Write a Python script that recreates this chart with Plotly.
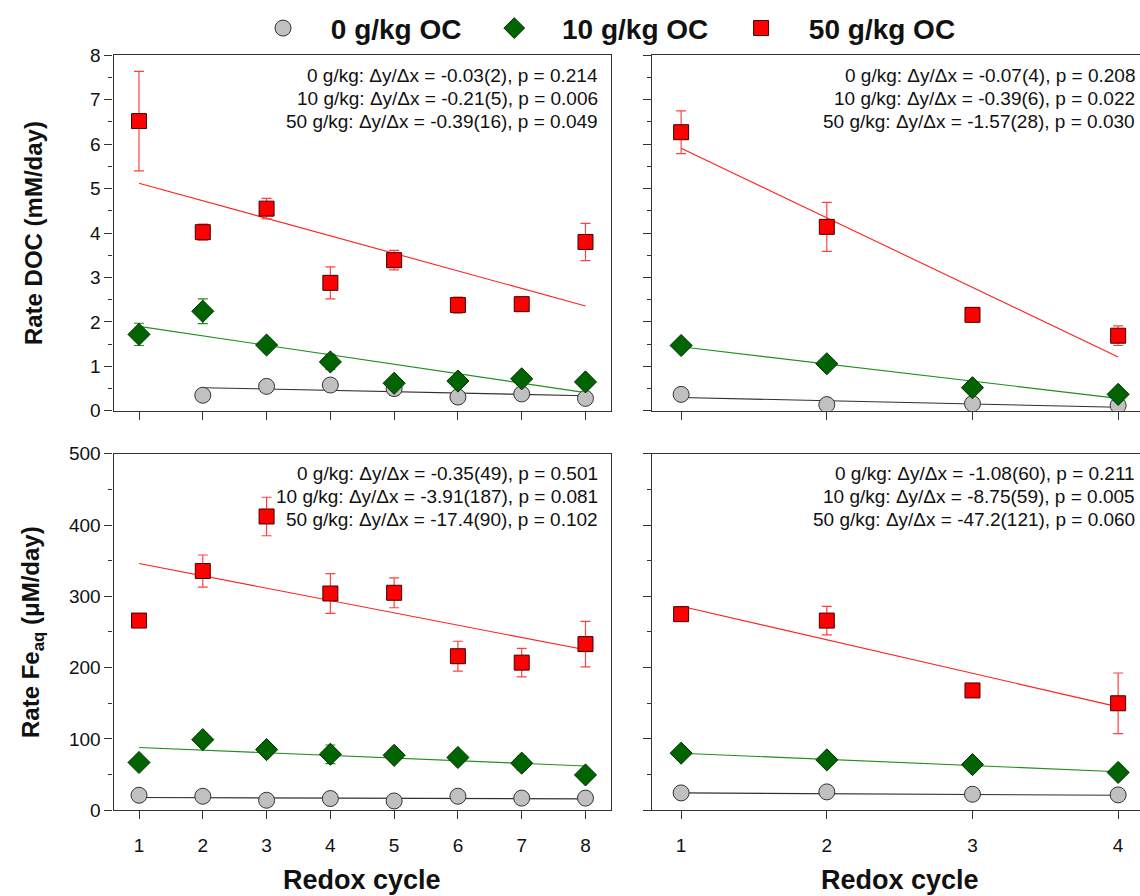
import plotly.graph_objects as go

# ---------------- data ----------------
cycles8 = [1, 2, 3, 4, 5, 6, 7, 8]
cycles4 = [1, 2, 3, 4]
series_names = ["0 g/kg OC", "10 g/kg OC", "50 g/kg OC"]

# DOC rates (mM/day), 8 redox cycles
doc8_0 = [None, 0.35, 0.55, 0.58, 0.50, 0.31, 0.38, 0.28]
doc8_0_err = [None, 0.03, 0.03, 0.03, 0.15, 0.03, 0.03, 0.03]
doc8_10 = [1.72, 2.24, 1.48, 1.10, 0.62, 0.67, 0.72, 0.65]
doc8_10_err = [0.25, 0.28, 0.05, 0.17, 0.06, 0.06, 0.14, 0.11]
doc8_50 = [6.52, 4.02, 4.55, 2.88, 3.39, 2.38, 2.40, 3.80]
doc8_50_err = [1.12, 0.18, 0.23, 0.36, 0.22, 0.18, 0.12, 0.42]

# DOC rates (mM/day), 4 redox cycles
doc4_0 = [0.37, 0.14, 0.16, 0.12]
doc4_0_err = [0.03, 0.03, 0.03, 0.03]
doc4_10 = [1.47, 1.06, 0.52, 0.37]
doc4_10_err = [0.07, 0.05, 0.04, 0.04]
doc4_50 = [6.27, 4.14, 2.16, 1.69]
doc4_50_err = [0.48, 0.55, 0.06, 0.22]

# Fe(aq) rates (uM/day), 8 redox cycles
fe8_0 = [21, 19.6, 14, 16.4, 13, 19.6, 17, 17]
fe8_0_err = [2, 2, 2, 2, 2, 2, 2, 2]
fe8_10 = [67, 99, 85, 78.5, 77, 74, 66, 49.5]
fe8_10_err = [6, 8, 6, 13, 6, 6, 9.5, 6]
fe8_50 = [266, 335.5, 412, 304, 305, 216, 207, 233]
fe8_50_err = [8, 22.5, 27, 28, 21, 21, 20, 32]

# Fe(aq) rates (uM/day), 4 redox cycles
fe4_0 = [24.3, 25.7, 22.4, 21.5]
fe4_0_err = [2, 2, 2, 2]
fe4_10 = [80, 70.6, 64, 53]
fe4_10_err = [4, 3, 3, 3]
fe4_50 = [275, 266, 168, 150]
fe4_50_err = [4, 20, 6, 42.5]

# linear fits: [x_start, x_end, y_start, y_end]
doc8_fits = [[2, 8, 0.52, 0.34], [1, 8, 1.90, 0.41], [1, 8, 5.12, 2.36]]
doc4_fits = [[1, 4, 0.30, 0.08], [1, 4, 1.44, 0.28], [1, 4, 5.91, 1.21]]
fe8_fits = [[1, 8, 17.8, 15.9], [1, 8, 88, 62], [1, 8, 346, 225]]
fe4_fits = [[1, 4, 24.3, 21.0], [1, 4, 80, 54], [1, 4, 286, 145]]

doc8_text = ["0 g/kg: Δy/Δx = -0.03(2), p = 0.214",
             "10 g/kg: Δy/Δx = -0.21(5), p = 0.006",
             "50 g/kg: Δy/Δx = -0.39(16), p = 0.049"]
doc4_text = ["0 g/kg: Δy/Δx = -0.07(4), p = 0.208",
             "10 g/kg: Δy/Δx = -0.39(6), p = 0.022",
             "50 g/kg: Δy/Δx = -1.57(28), p = 0.030"]
fe8_text = ["0 g/kg: Δy/Δx = -0.35(49), p = 0.501",
            "10 g/kg: Δy/Δx = -3.91(187), p = 0.081",
            "50 g/kg: Δy/Δx = -17.4(90), p = 0.102"]
fe4_text = ["0 g/kg: Δy/Δx = -1.08(60), p = 0.211",
            "10 g/kg: Δy/Δx = -8.75(59), p = 0.005",
            "50 g/kg: Δy/Δx = -47.2(121), p = 0.060"]

# ---------------- style ----------------
FONT = "Arial, 'Liberation Sans', Helvetica, sans-serif"
marker_fill = ["#c0c0c0", "#006400", "#ff0000"]
marker_line = ["#333333", "#003000", "#400000"]
symbols = ["circle", "diamond", "square"]
msizes = [16, 17, 15]
line_colors = ["#303030", "#1f8f1f", "#ff2020"]
err_colors = ["#303030", "#1f8f1f", "#ff4040"]

fig = go.Figure()

panels = [
    ("x", "y", cycles8, [doc8_0, doc8_10, doc8_50], [doc8_0_err, doc8_10_err, doc8_50_err], doc8_fits),
    ("x2", "y2", cycles4, [doc4_0, doc4_10, doc4_50], [doc4_0_err, doc4_10_err, doc4_50_err], doc4_fits),
    ("x3", "y3", cycles8, [fe8_0, fe8_10, fe8_50], [fe8_0_err, fe8_10_err, fe8_50_err], fe8_fits),
    ("x4", "y4", cycles4, [fe4_0, fe4_10, fe4_50], [fe4_0_err, fe4_10_err, fe4_50_err], fe4_fits),
]

for pi, (xa, ya, xs, ys, errs, fits) in enumerate(panels):
    for si in range(3):
        f = fits[si]
        fig.add_trace(go.Scatter(
            x=[f[0], f[1]], y=[f[2], f[3]], mode="lines", xaxis=xa, yaxis=ya,
            line=dict(color=line_colors[si], width=1.1), showlegend=False, hoverinfo="skip"))
    for si in range(3):
        fig.add_trace(go.Scatter(
            x=xs, y=ys[si], mode="markers", xaxis=xa, yaxis=ya,
            name="\u00a0" + series_names[si] + "\u00a0",
            showlegend=(pi == 0),
            marker=dict(symbol=symbols[si], size=msizes[si], color=marker_fill[si],
                        line=dict(color=marker_line[si], width=1)),
            error_y=dict(type="data", array=errs[si], color=err_colors[si],
                         thickness=1.2, width=5)))

# ---------------- layout ----------------
W, H = 1140, 896
def px_x(p):
    return p / W
def px_y(p):
    q = (p - 8.6) / 0.978
    return 1 - q / H

xl = [px_x(113.5), px_x(611)]
xr = [px_x(652), 1.0]
yt = [px_y(410), px_y(54)]
yb = [px_y(810), px_y(453)]

axis_common = dict(showline=True, linecolor="#333333", linewidth=1.2,
                   ticks="outside", ticklen=8, tickwidth=1.2, tickcolor="#333333",
                   showgrid=False, zeroline=False,
                   tickfont=dict(family=FONT, size=19, color="#111111"))

fig.update_layout(
    width=W, height=H, margin=dict(l=0, r=0, t=0, b=0),
    paper_bgcolor="white", plot_bgcolor="white",
    font=dict(family=FONT, color="#111111"),
    xaxis=dict(domain=xl, anchor="y", range=[0.6, 8.4], tickvals=cycles8, showticklabels=False,
               mirror=True, **axis_common),
    xaxis2=dict(domain=xr, anchor="y2", range=[0.8, 4.15], tickvals=cycles4, showticklabels=False,
                mirror=True, **axis_common),
    xaxis3=dict(domain=xl, anchor="y3", range=[0.6, 8.4], tickvals=cycles8, ticklabelstandoff=10,
                mirror=True, **axis_common),
    xaxis4=dict(domain=xr, anchor="y4", range=[0.8, 4.15], tickvals=cycles4, ticklabelstandoff=10,
                mirror=True, **axis_common),
    yaxis=dict(domain=yt, anchor="x", range=[0, 8], dtick=1, mirror=True,
               minor=dict(dtick=0.5, ticks="outside", ticklen=4, tickcolor="#333333"), **axis_common),
    yaxis2=dict(domain=yt, anchor="x2", range=[0, 8], dtick=1, showticklabels=False, mirror=False,
                minor=dict(dtick=0.5, ticks="outside", ticklen=4, tickcolor="#333333"), **axis_common),
    yaxis3=dict(domain=yb, anchor="x3", range=[0, 500], dtick=100, mirror=True,
                minor=dict(dtick=50, ticks="outside", ticklen=4, tickcolor="#333333"), **axis_common),
    yaxis4=dict(domain=yb, anchor="x4", range=[0, 500], dtick=100, showticklabels=False, mirror=False,
                minor=dict(dtick=50, ticks="outside", ticklen=4, tickcolor="#333333"), **axis_common),
    legend=dict(orientation="h", x=px_x(243), xanchor="left", y=px_y(27), yanchor="middle",
                font=dict(family=FONT, size=28, color="#111111", weight="bold"),
                itemwidth=70, traceorder="normal", bgcolor="rgba(0,0,0,0)"),
)

# stats annotations, one per line
for xd, ytop_px, lines in [(xl, 54, doc8_text), (xr, 54, doc4_text), (xl, 453, fe8_text), (xr, 453, fe4_text)]:
    for li, txt in enumerate(lines):
        fig.add_annotation(xref="paper", yref="paper", x=xd[1], y=px_y(ytop_px + 20 + 23 * li),
                           xanchor="right", yanchor="middle",
                           xshift=-11 if xd[1] < 0.99 else -3,
                           text=txt, showarrow=False,
                           font=dict(family=FONT, size=19, color="#111111"))

# axis titles
fig.add_annotation(xref="paper", yref="paper", x=px_x(33), y=(yt[0] + yt[1]) / 2, textangle=-90,
                   text="<b>Rate DOC (mM/day)</b>", showarrow=False, xanchor="center", yanchor="middle",
                   font=dict(family=FONT, size=24, color="#111111"))
fig.add_annotation(xref="paper", yref="paper", x=px_x(33), y=(yb[0] + yb[1]) / 2, textangle=-90,
                   text="<b>Rate Fe<sub>aq</sub> (μM/day)</b>", showarrow=False, xanchor="center", yanchor="middle",
                   font=dict(family=FONT, size=24, color="#111111"))
for cx in [px_x(362), px_x(900)]:
    fig.add_annotation(xref="paper", yref="paper", x=cx, y=px_y(880), text="<b>Redox cycle</b>",
                       showarrow=False, xanchor="center", yanchor="middle",
                       font=dict(family=FONT, size=27, color="#111111"))

fig.write_html("out.html")
